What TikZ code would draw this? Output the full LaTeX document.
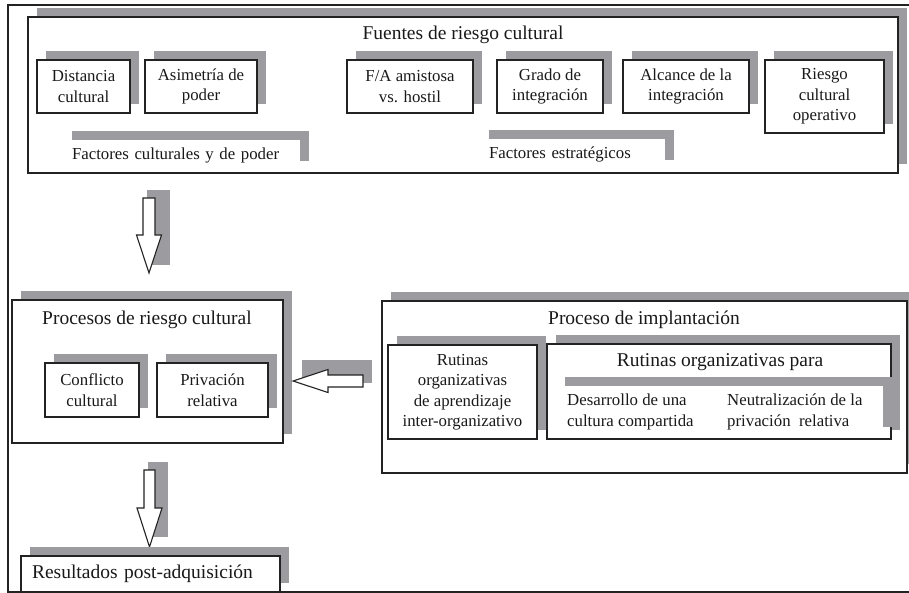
\documentclass[tikz,border=0pt]{standalone}
\usepackage{fontspec}
\setmainfont{Liberation Serif}
\usetikzlibrary{shadows,calc}
\definecolor{sg}{RGB}{155,155,160}
\definecolor{linec}{RGB}{35,35,35}
\definecolor{txtc}{RGB}{25,25,25}
\newcommand\bigfnt{\fontsize{19.5}{23}\selectfont}
\newcommand\smfnt{\fontsize{16.8}{20.5}\selectfont}
\begin{document}
\begin{tikzpicture}[x=1pt,y=-1pt,
  sh/.style={general shadow={fill=sg, shadow xshift=9pt, shadow yshift=9pt}},
  box/.style={sh, draw=linec, line width=1.1pt, fill=white, inner sep=0pt, align=center, font=\smfnt, text=txtc},
  lbl/.style={sh, fill=white, inner ysep=0pt, inner xsep=9pt, align=left, font=\smfnt, text=txtc},
  ttl/.style={font=\bigfnt, text=txtc, inner sep=0pt},
  plain/.style={font=\smfnt, align=left, anchor=west, inner sep=0pt, text=txtc},
  barrow/.style={draw=linec, line width=1.1pt, fill=white, line join=miter}
]
\useasboundingbox (0,0) rectangle (909,593);
\fill[white] (0,0) rectangle (909,593);

% outer frame
\coordinate (ftr) at (909,5);
\coordinate (ftl) at (8,5);
\coordinate (fbl) at (8,592);
\coordinate (fbr) at (909,592);
\draw[linec, line width=1.6pt] (ftr) -- (ftl) -- (fbl) -- (fbr);

% Fuentes de riesgo cultural
\node[box, minimum width=870pt, minimum height=156pt] (fuentes) at (463,95) {};
\node[ttl] (tfuentes) at (463,35) {Fuentes de riesgo cultural};
\node[box, minimum width=93pt, minimum height=53pt] (dist) at (83.5,86.5) {Distancia\\cultural};
\node[box, minimum width=112pt, minimum height=53pt] (asim) at (201,86.5) {Asimetría de\\poder};
\node[box, minimum width=126pt, minimum height=53pt] (fa) at (410,86.5) {F/A amistosa\\vs. hostil};
\node[box, minimum width=106pt, minimum height=53pt] (grado) at (550,86.5) {Grado de\\integración};
\node[box, minimum width=126pt, minimum height=53pt] (alc) at (686,86.5) {Alcance de la\\integración};
\node[box, minimum width=119pt, minimum height=73pt] (riesgo) at (824.5,96.5) {Riesgo\\cultural\\operativo};
\node[lbl, text width=219pt, minimum height=30pt] (fcp) at (181.5,155) {Factores culturales y de poder};
\node[lbl, text width=167pt, minimum height=30pt] (fest) at (572.5,154) {Factores estratégicos};

% arrow 1
\coordinate (a1) at (149,198);
\fill[sg] ($(a1)+(-2,-8)$) rectangle ($(a1)+(21,67)$);
\draw[barrow] (a1) ++(-6,0) -- ++(12,0) -- ++(0,37) -- ++(6.5,0) -- ++(-12.5,38) -- ++(-12.5,-38) -- ++(6.5,0) -- cycle;

% Procesos de riesgo cultural
\node[box, minimum width=271pt, minimum height=143pt] (procesos) at (147.5,371.5) {};
\node[ttl] (tprocesos) at (147,320) {Procesos de riesgo cultural};
\node[box, minimum width=94pt, minimum height=54pt] (conf) at (92,390) {Conflicto\\cultural};
\node[box, minimum width=111pt, minimum height=54pt] (priv) at (212.5,390) {Privación\\relativa};

% arrow 2 (left)
\coordinate (a2) at (363,381);
\fill[sg] ($(a2)+(-61,-21)$) rectangle ($(a2)+(9,2)$);
\draw[barrow] (a2) ++(0,-6) -- ++(-35,0) -- ++(0,-5.5) -- ++(-35,11.5) -- ++(35,11.5) -- ++(0,-5.5) -- ++(35,0) -- cycle;

% Proceso de implantacion
\node[box, minimum width=525pt, minimum height=172pt] (impl) at (644.5,387) {};
\node[ttl] (timpl) at (644,320) {Proceso de implantación};
\node[box, minimum width=149pt, minimum height=94pt] (rutap) at (462.5,392) {Rutinas\\organizativas\\de aprendizaje\\inter-organizativo};
\node[box, minimum width=344pt, minimum height=95pt] (rutpara) at (719,391.5) {};
\node[ttl] (trutpara) at (720,362) {Rutinas organizativas para};
\node[lbl, minimum width=327pt, minimum height=50pt, inner xsep=0pt] (lpara) at (719.5,411) {};
\node[plain] (desa) at (567,412) {Desarrollo de una\\cultura compartida};
\node[plain] (neut) at (727,412) {Neutralización de la\\privación\ \ relativa};

% arrow 3
\coordinate (a3) at (149.5,470);
\fill[sg] ($(a3)+(-1.5,-8)$) rectangle ($(a3)+(18.5,67)$);
\draw[barrow] (a3) ++(-5.5,0) -- ++(11,0) -- ++(0,38) -- ++(7,0) -- ++(-12.5,39) -- ++(-12.5,-39) -- ++(7,0) -- cycle;

% Resultados
\node[lbl, text width=237pt, inner xsep=11pt, minimum height=36pt, draw=linec, line width=1.1pt, font=\bigfnt] (res) at (150.5,574) {Resultados post-adquisición};
\end{tikzpicture}
\end{document}
